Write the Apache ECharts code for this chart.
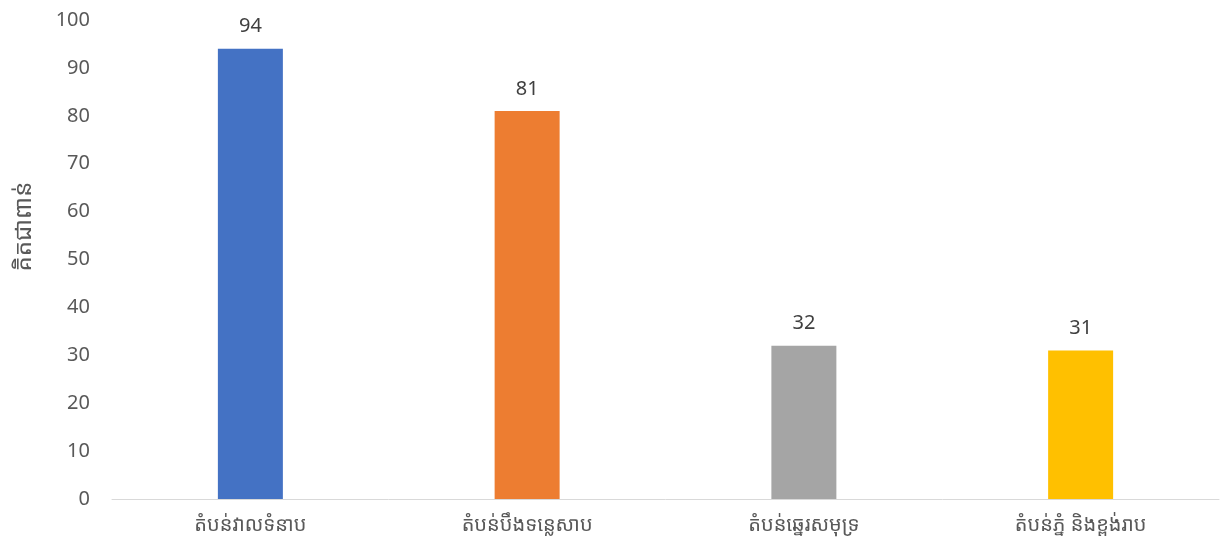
<!DOCTYPE html>
<html>
<head>
<meta charset="utf-8">
<script src="https://cdn.jsdelivr.net/npm/echarts@6/dist/echarts.min.js"></script>
<style>
  html, body { margin: 0; padding: 0; background: #fff; }
  #chart { width: 1224px; height: 546px; }
</style>
</head>
<body>
<div id="chart"></div>
<script>
// 数据
const categories = ['តំបន់វាលទំនាប', 'តំបន់បឹងទន្លេសាប', 'តំបន់ឆ្នេរសមុទ្រ', 'តំបន់ភ្នំ និងខ្ពង់រាប'];
const values = [94, 81, 32, 31];
const barColors = ['#4472C4', '#ED7D31', '#A5A5A5', '#FFC000'];
const yAxisTitle = 'គិតជាពាន់';

const fontFamily = '"Noto Sans Khmer", "Khmer OS", "Noto Sans", "DejaVu Sans", sans-serif';

const chart = echarts.init(document.getElementById('chart'));
const option = {
    animation: false,
    grid: {
        left: 112,
        right: 5,
        top: 20,
        bottom: 47,
        outerBoundsMode: 'none',
    },
    xAxis: {
        type: 'category',
        data: categories,
        axisLine: { lineStyle: { color: '#D9D9D9', width: 1 } },
        axisTick: { show: false },
        axisLabel: {
            color: '#595959',
            fontSize: 20,
            fontFamily: fontFamily,
            margin: 16,
        },
    },
    yAxis: {
        type: 'value',
        min: 0,
        max: 100,
        interval: 10,
        name: yAxisTitle,
        nameLocation: 'middle',
        nameGap: 76,
        nameTextStyle: {
            color: '#595959',
            fontSize: 24,
            fontFamily: fontFamily,
            padding: [0, 0, 0, 66], // 往上挪一点
        },
        axisLine: { show: false },
        axisTick: { show: false },
        splitLine: { show: false },
        axisLabel: {
            color: '#595959',
            fontSize: 20,
            fontFamily: fontFamily,
            margin: 22,
        },
    },
    series: [
        {
            type: 'bar',
            barWidth: 65,
            data: values.map((v, i) => ({ value: v, itemStyle: { color: barColors[i] } })),
            label: {
                show: true,
                position: 'top',
                distance: 12,
                color: '#404040',
                fontSize: 20,
                fontFamily: fontFamily,
            },
        },
    ],
};
chart.setOption(option);
window.addEventListener('resize', chart.resize);
</script>
</body>
</html>
